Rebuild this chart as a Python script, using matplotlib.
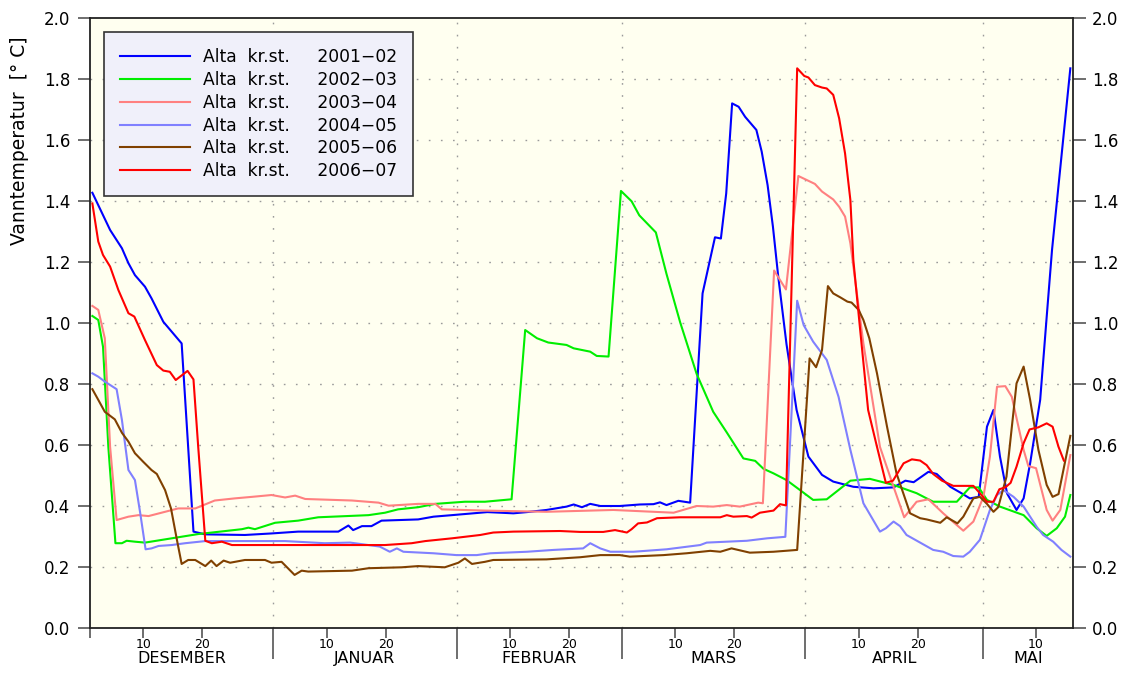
import matplotlib
matplotlib.use("Agg")
import matplotlib.pyplot as plt
from matplotlib.ticker import FixedLocator, FormatStrFormatter

# -----------------------------
# DATA (day 0 = 1. desember)
# -----------------------------
labels = ["2001\u221202", "2002\u221203", "2003\u221204",
          "2004\u221205", "2005\u221206", "2006\u221207"]
colors = ["#0000ff", "#00ee00", "#ff8080", "#8080ff", "#804000", "#ff0000"]

month_names = ["DESEMBER", "JANUAR", "FEBRUAR", "MARS", "APRIL", "MAI"]
month_starts = [0, 31, 62, 90, 121, 151]
day_ticks = [9, 19, 40, 50, 71, 81, 99, 109, 130, 140, 160]
day_labels = ["10", "20", "10", "20", "10", "20", "10", "20", "10", "20", "10"]

d_0102 = [0.4, 3.4, 5.4, 6.5, 7.6, 9.3, 10.4, 12.4, 15.5, 17.5, 19.5, 26.2, 30.7, 35.2, 42.0,
          43.7, 44.5, 46.0, 47.6, 49.3, 55.5, 58.1, 61.2, 64.8, 67.2, 71.6, 73.9, 77.2, 80.6,
          81.8, 83.2, 84.6, 86.3, 89.6, 93.0, 95.3, 96.4, 97.5, 99.5, 101.5, 103.6, 105.7,
          106.7, 107.6, 108.6, 109.7, 110.8, 112.7, 113.6, 114.6, 115.5, 116.4, 117.8, 119.5,
          121.5, 123.8, 125.7, 129.1, 132.5, 135.9, 137.9, 139.3, 141.8, 143.2, 145.5, 147.2,
          148.8, 150.3, 151.7, 152.8, 153.9, 155.1, 156.7, 157.9, 159.0, 160.7, 161.8, 162.7,
          165.8]
v_0102 = [1.427, 1.305, 1.245, 1.196, 1.157, 1.119, 1.081, 1.004, 0.933, 0.316, 0.307, 0.305,
          0.31, 0.316, 0.316, 0.336, 0.321, 0.334, 0.334, 0.352, 0.356, 0.365, 0.37, 0.376,
          0.38, 0.376, 0.38, 0.387, 0.398, 0.405, 0.396, 0.407, 0.40, 0.40, 0.405, 0.406, 0.412,
          0.403, 0.417, 0.411, 1.097, 1.281, 1.277, 1.425, 1.72, 1.709, 1.676, 1.633, 1.562,
          1.452, 1.316, 1.152, 0.93, 0.715, 0.562, 0.502, 0.48, 0.463, 0.458, 0.461, 0.483,
          0.478, 0.512, 0.505, 0.463, 0.444, 0.425, 0.43, 0.66, 0.715, 0.562, 0.441, 0.387,
          0.425, 0.54, 0.748, 1.02, 1.239, 1.835]

d_0203 = [0.4, 1.4, 2.2, 3.1, 4.3, 5.4, 6.2, 7.6, 9.3, 13.8, 18.3, 25.7, 26.8, 27.9, 31.3, 35.2,
          38.6, 47.1, 49.9, 52.1, 55.5, 58.4, 63.4, 66.8, 71.3, 73.6, 75.6, 77.5, 80.6, 81.8,
          84.6, 85.7, 87.7, 89.8, 91.6, 92.9, 95.7, 97.5, 99.8, 102.6, 105.4, 107.7, 110.5,
          112.5, 113.9, 115.6, 117.8, 120.1, 122.3, 124.6, 128.6, 131.9, 135.9, 139.8, 142.6,
          146.6, 148.8, 150.3, 151.7, 153.9, 157.9, 160.1, 161.8, 163.5, 164.9, 165.8]
v_0203 = [1.023, 1.01, 0.922, 0.594, 0.278, 0.278, 0.286, 0.283, 0.28, 0.294, 0.308, 0.324,
          0.329, 0.324, 0.345, 0.352, 0.363, 0.37, 0.378, 0.389, 0.396, 0.407, 0.414, 0.414,
          0.422, 0.977, 0.95, 0.936, 0.928, 0.917, 0.906, 0.892, 0.89, 1.433, 1.399, 1.353,
          1.297, 1.161, 1.003, 0.833, 0.709, 0.641, 0.556, 0.548, 0.522, 0.507, 0.485, 0.452,
          0.42, 0.422, 0.483, 0.489, 0.469, 0.442, 0.414, 0.414, 0.461, 0.461, 0.42, 0.398,
          0.37, 0.327, 0.302, 0.327, 0.365, 0.436]

d_0304 = [0.4, 1.4, 2.5, 3.4, 4.5, 6.5, 8.2, 9.9, 12.7, 14.9, 17.8, 21.1, 24.5, 27.4, 30.7, 33.0,
          34.7, 36.4, 44.3, 48.8, 50.5, 55.5, 58.4, 59.5, 66.8, 77.2, 88.5, 98.7, 102.6, 105.4,
          107.7, 109.9, 111.1, 113.0, 113.8, 115.7, 116.7, 117.7, 119.8, 121.2, 122.6, 123.8,
          125.7, 126.7, 127.7, 128.6, 130.8, 133.6, 135.9, 137.7, 139.8, 141.8, 144.3, 147.7,
          149.4, 151.1, 152.2, 153.4, 154.8, 155.9, 157.9, 158.7, 160.0, 161.8, 162.8, 164.1,
          165.8]
v_0304 = [1.056, 1.043, 0.95, 0.594, 0.354, 0.365, 0.37, 0.367, 0.381, 0.392, 0.392, 0.418,
          0.425, 0.43, 0.436, 0.428, 0.434, 0.423, 0.418, 0.411, 0.401, 0.407, 0.407, 0.389,
          0.385, 0.381, 0.387, 0.378, 0.40, 0.398, 0.403, 0.398, 0.403, 0.411, 0.409, 1.172,
          1.141, 1.11, 1.482, 1.469, 1.456, 1.431, 1.405, 1.381, 1.349, 1.261, 0.933, 0.594,
          0.463, 0.363, 0.414, 0.422, 0.376, 0.319, 0.349, 0.43, 0.562, 0.791, 0.793, 0.758,
          0.584, 0.531, 0.524, 0.387, 0.352, 0.387, 0.567]

d_0405 = [0.4, 1.4, 2.5, 4.5, 5.4, 6.5, 7.6, 8.5, 9.4, 10.4, 11.6, 13.8, 16.1, 19.5, 33.0, 39.7,
          44.0, 49.0, 50.7, 51.9, 53.0, 58.1, 62.0, 65.4, 67.7, 73.9, 78.4, 83.4, 84.6, 86.3,
          88.0, 91.9, 97.5, 103.2, 104.3, 111.1, 114.5, 117.6, 119.6, 120.7, 122.3, 124.6,
          126.6, 128.6, 130.8, 133.6, 134.6, 135.9, 137.0, 138.1, 140.4, 142.6, 144.3, 146.0,
          147.7, 148.8, 150.5, 152.2, 153.4, 154.5, 156.2, 157.9, 160.1, 161.2, 162.9, 164.3,
          165.8]
v_0405 = [0.835, 0.824, 0.808, 0.783, 0.682, 0.518, 0.485, 0.376, 0.258, 0.261, 0.269, 0.272,
          0.278, 0.285, 0.285, 0.278, 0.28, 0.267, 0.25, 0.261, 0.25, 0.245, 0.239, 0.239,
          0.245, 0.25, 0.256, 0.261, 0.278, 0.261, 0.25, 0.25, 0.258, 0.272, 0.28, 0.286,
          0.294, 0.299, 1.073, 0.993, 0.939, 0.879, 0.758, 0.584, 0.409, 0.316, 0.327, 0.349,
          0.334, 0.305, 0.28, 0.256, 0.25, 0.236, 0.234, 0.25, 0.289, 0.387, 0.436, 0.452,
          0.43, 0.398, 0.332, 0.305, 0.283, 0.256, 0.234]

d_0506 = [0.4, 1.4, 2.5, 4.2, 5.4, 6.5, 7.6, 9.0, 10.4, 11.3, 12.7, 13.7, 14.7, 15.5, 16.6, 17.8,
          19.5, 20.5, 21.4, 22.6, 23.7, 26.2, 29.6, 30.7, 32.4, 34.6, 35.8, 36.9, 44.3, 47.1,
          52.7, 55.5, 60.0, 62.3, 63.4, 64.6, 66.8, 68.2, 77.2, 82.9, 86.3, 89.6, 91.3, 97.0,
          100.9, 104.9, 106.6, 108.5, 111.6, 115.6, 119.6, 121.7, 122.8, 123.8, 124.8, 125.7,
          126.9, 128.1, 128.8, 130.0, 130.8, 131.8, 133.1, 134.8, 136.4, 138.7, 140.4, 141.5,
          143.8, 144.9, 146.7, 147.7, 149.4, 150.5, 151.7, 152.8, 153.6, 155.0, 156.7, 157.9,
          159.0, 160.4, 161.8, 162.8, 163.8, 165.8]
v_0506 = [0.783, 0.748, 0.709, 0.684, 0.64, 0.611, 0.573, 0.545, 0.518, 0.505, 0.452, 0.392,
          0.289, 0.21, 0.223, 0.223, 0.203, 0.221, 0.203, 0.221, 0.214, 0.223, 0.223, 0.214,
          0.217, 0.174, 0.188, 0.185, 0.188, 0.196, 0.199, 0.203, 0.199, 0.214, 0.228, 0.21,
          0.217, 0.223, 0.225, 0.232, 0.239, 0.239, 0.234, 0.239, 0.245, 0.253, 0.25, 0.261,
          0.247, 0.25, 0.256, 0.884, 0.855, 0.911, 1.121, 1.097, 1.084, 1.07, 1.067, 1.043,
          1.01, 0.95, 0.835, 0.66, 0.507, 0.376, 0.36, 0.356, 0.345, 0.363, 0.343, 0.365,
          0.425, 0.43, 0.407, 0.381, 0.396, 0.496, 0.802, 0.857, 0.748, 0.584, 0.469, 0.43,
          0.439, 0.63]

d_0607 = [0.4, 1.4, 2.2, 3.4, 4.8, 6.5, 7.5, 9.3, 11.3, 12.4, 13.5, 14.5, 16.5, 17.5, 18.3, 19.5,
          20.6, 22.3, 24.0, 39.7, 49.9, 54.4, 56.7, 61.2, 66.0, 68.2, 71.6, 79.5, 82.9, 86.8,
          88.8, 90.8, 91.6, 92.7, 94.2, 95.9, 99.8, 106.6, 107.7, 108.8, 111.1, 111.9, 113.3,
          115.6, 116.7, 117.7, 119.6, 120.8, 121.5, 122.6, 123.8, 124.6, 125.7, 126.7, 127.7,
          128.6, 129.1, 130.2, 131.6, 133.1, 134.6, 135.8, 137.6, 139.0, 140.4, 141.5, 142.6,
          144.1, 146.0, 149.4, 150.5, 151.7, 152.8, 153.8, 154.8, 155.7, 156.7, 157.9, 158.9,
          160.4, 161.8, 162.8, 163.8, 164.7]
v_0607 = [1.392, 1.267, 1.223, 1.185, 1.108, 1.032, 1.021, 0.944, 0.862, 0.844, 0.84, 0.813,
          0.843, 0.815, 0.594, 0.286, 0.278, 0.283, 0.272, 0.272, 0.272, 0.278, 0.285, 0.294,
          0.305, 0.313, 0.316, 0.318, 0.315, 0.315, 0.321, 0.313, 0.324, 0.343, 0.346, 0.36,
          0.363, 0.363, 0.37, 0.365, 0.367, 0.362, 0.378, 0.385, 0.406, 0.402, 1.835, 1.81,
          1.805, 1.78, 1.772, 1.769, 1.748, 1.671, 1.556, 1.403, 1.207, 0.988, 0.715, 0.594,
          0.476, 0.483, 0.54, 0.553, 0.549, 0.534, 0.505, 0.483, 0.466, 0.466, 0.442, 0.414,
          0.414, 0.455, 0.461, 0.476, 0.529, 0.606, 0.651, 0.658, 0.671, 0.66, 0.594, 0.549]

series_days = [d_0102, d_0203, d_0304, d_0405, d_0506, d_0607]
series_vals = [v_0102, v_0203, v_0304, v_0405, v_0506, v_0607]

X_END = 166.2


# -----------------------------
# PLOT
# -----------------------------
def make_plot():
    plt.rcParams["font.family"] = ["DejaVu Sans"]

    fig = plt.figure(figsize=(11.33, 6.78), dpi=100)
    ax = fig.add_axes([90 / 1133, 50 / 678, 982.7 / 1133, 610 / 678])
    ax.set_facecolor("#fffff0")

    # dotted grid
    for v in [0.2 * i for i in range(1, 10)]:
        ax.axhline(v, color="#9a9a9a", lw=1.0, ls=(0, (1.2, 7.5)), zorder=1)
    for m in month_starts[1:]:
        ax.axvline(m, color="#9a9a9a", lw=1.0, ls=(0, (1.2, 7.5)), zorder=1)

    for days, vals, col, lab in zip(series_days, series_vals, colors, labels):
        ax.plot(days, vals, color=col, lw=1.5, zorder=3,
                label="Alta  kr.st.     " + lab)

    ax.set_xlim(0, X_END)
    ax.set_ylim(0, 2.0)

    # y axis, both sides
    ax.set_yticks([0.2 * i for i in range(11)])
    ax.yaxis.set_major_formatter(FormatStrFormatter("%.1f"))
    ax.tick_params(axis="y", which="major", direction="out", length=9, width=1.2,
                   color="#555555", labelsize=12, pad=5, right=True, labelright=True)
    fig.text(20 / 1133, 1 - 141 / 678, "Vanntemperatur  [\u00b0 C]", rotation=90,
             ha="center", va="center", fontsize=13.5)

    # x axis: month boundaries (long) and 10/20 days (short)
    ax.xaxis.set_major_locator(FixedLocator(month_starts[1:]))
    ax.xaxis.set_major_formatter(plt.NullFormatter())
    ax.xaxis.set_minor_locator(FixedLocator([0] + day_ticks))
    ax.xaxis.set_minor_formatter(plt.NullFormatter())
    ax.tick_params(axis="x", which="major", direction="out", length=22, width=1.2,
                   color="#555555")
    ax.tick_params(axis="x", which="minor", direction="out", length=7, width=1.2,
                   color="#555555")

    xtr = ax.get_xaxis_transform()
    for d, lab in zip(day_ticks, day_labels):
        ax.text(d, -20.3 / 610, lab, transform=xtr, ha="center", va="baseline",
                fontsize=9)

    bounds = month_starts + [X_END]
    for i, name in enumerate(month_names):
        mid = (bounds[i] + bounds[i + 1]) / 2
        ax.text(mid, -35.3 / 610, name, transform=xtr,
                ha="center", va="baseline", fontsize=11.5)

    for s in ax.spines.values():
        s.set_linewidth(1.3)
        s.set_color("#222222")

    leg = ax.legend(loc="upper left", bbox_to_anchor=(0.0142, 0.977), borderaxespad=0,
                    frameon=True, fancybox=False, fontsize=12.3, handlelength=4.1,
                    handletextpad=0.75, labelspacing=0.28, borderpad=0.95)
    leg.get_frame().set_facecolor("#f0f0fa")
    leg.get_frame().set_edgecolor("#333333")
    leg.get_frame().set_linewidth(1.2)
    leg.get_frame().set_alpha(1)
    leg.set_zorder(5)

    fig.savefig("out.png", dpi=100)
    plt.close(fig)


# -----------------------------
# RUN FILE
# -----------------------------
if __name__ == "__main__":
    make_plot()
